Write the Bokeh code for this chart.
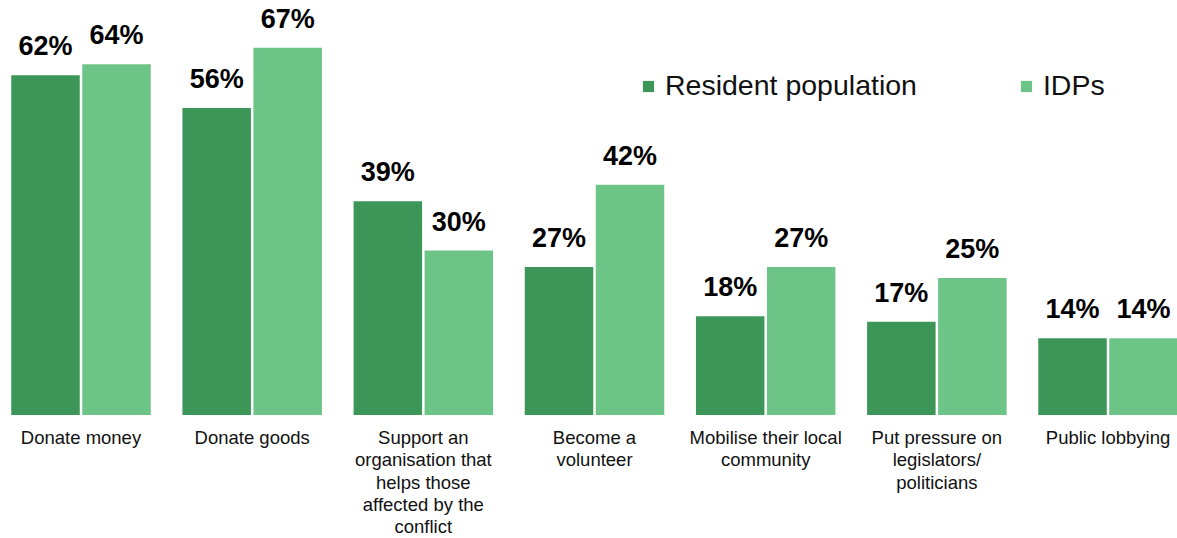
from bokeh.plotting import figure
from bokeh.models import Range1d, ColumnDataSource, Legend, LegendItem
from bokeh.core.properties import value
from bokeh.embed import file_html
from bokeh.resources import INLINE

categories = [
    "Donate money",
    "Donate goods",
    "Support an\norganisation that\nhelps those\naffected by the\nconflict",
    "Become a\nvolunteer",
    "Mobilise their local\ncommunity",
    "Put pressure on\nlegislators/\npoliticians",
    "Public lobbying",
]
resident = [62, 56, 39, 27, 18, 17, 14]
idps = [64, 67, 30, 42, 27, 25, 14]
series_names = ["Resident population", "IDPs"]

DARK = "#3c9657"
LIGHT = "#6cc587"
FONT = "Liberation Sans"

W, H = 1177, 538
PX_PER_UNIT = 5.48          # pixels per percentage point
BASE_PX = 414.5             # baseline position from top
GROUP_PX = 171.17           # group spacing in pixels
FIRST_CENTER_PX = 80.5

idx = list(range(len(categories)))
bar_w = 68.5 / GROUP_PX
off = 35.5 / GROUP_PX

p = figure(width=W, height=H, output_backend="svg", toolbar_location=None,
           x_range=Range1d(-FIRST_CENTER_PX / GROUP_PX, (W - FIRST_CENTER_PX) / GROUP_PX),
           y_range=Range1d(-(H - BASE_PX) / PX_PER_UNIT, BASE_PX / PX_PER_UNIT),
           min_border=0, min_border_left=0, min_border_right=0,
           min_border_top=0, min_border_bottom=0)
p.axis.visible = False
p.grid.visible = False
p.outline_line_color = None
p.background_fill_color = "white"
p.border_fill_color = "white"

LABEL_GAP = 29 / PX_PER_UNIT

src = ColumnDataSource(dict(
    x_res=[i - off for i in idx],
    x_idp=[i + off for i in idx],
    res=resident,
    idp=idps,
    res_lab=[f"{v}%" for v in resident],
    idp_lab=[f"{v}%" for v in idps],
    res_ly=[v + LABEL_GAP for v in resident],
    idp_ly=[v + LABEL_GAP for v in idps],
    xc=idx,
    cat=categories,
    cat_y=[-12 / PX_PER_UNIT] * len(idx),
))

r1 = p.vbar(x="x_res", top="res", bottom=0, width=bar_w, source=src,
            fill_color=DARK, line_color=None)
r2 = p.vbar(x="x_idp", top="idp", bottom=0, width=bar_w, source=src,
            fill_color=LIGHT, line_color=None)

for xcol, ycol, tcol in [("x_res", "res_ly", "res_lab"), ("x_idp", "idp_ly", "idp_lab")]:
    p.text(x=xcol, y=ycol, text=tcol, source=src, text_align="center",
           text_baseline="alphabetic", text_font=value(FONT),
           text_font_size="27px", text_font_style="bold", text_color="black")

p.text(x="xc", y="cat_y", text="cat", source=src, text_align="center",
       text_baseline="top", text_font=value(FONT), text_font_size="18.5px",
       text_line_height=1.06, text_color="#111111")

legend = Legend(items=[LegendItem(label=series_names[0], renderers=[r1]),
                       LegendItem(label=series_names[1], renderers=[r2])],
                location=(641, 436), orientation="horizontal",
                glyph_width=14, glyph_height=14, label_standoff=10,
                spacing=102, padding=0, margin=0,
                label_text_font=FONT, label_text_font_size="28.5px",
                label_text_color="#111111",
                border_line_color=None, background_fill_alpha=0)
p.add_layout(legend, "center")

open("out.html", "w").write(file_html(p, INLINE))
